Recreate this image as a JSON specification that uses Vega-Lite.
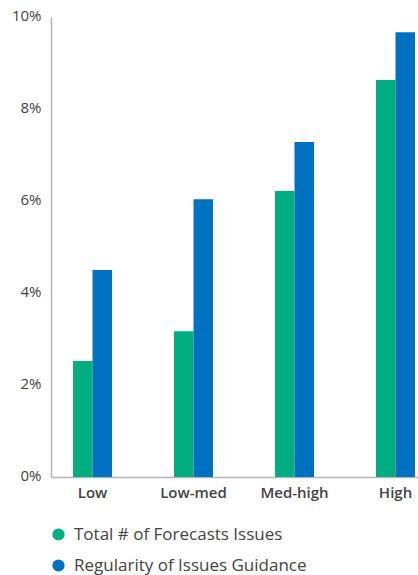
{
  "$schema": "https://vega.github.io/schema/vega-lite/v6.json",
  "autosize": "none",
  "width": 367,
  "height": 460,
  "padding": {"left": 51, "top": 17, "right": 0, "bottom": 98},
  "background": "white",
  "data": {
    "values": [
      {"group": "Low", "series": "Total # of Forecasts Issues", "value": 0.0252},
      {"group": "Low", "series": "Regularity of Issues Guidance", "value": 0.045},
      {"group": "Low-med", "series": "Total # of Forecasts Issues", "value": 0.0317},
      {"group": "Low-med", "series": "Regularity of Issues Guidance", "value": 0.0604},
      {"group": "Med-high", "series": "Total # of Forecasts Issues", "value": 0.0622},
      {"group": "Med-high", "series": "Regularity of Issues Guidance", "value": 0.0728},
      {"group": "High", "series": "Total # of Forecasts Issues", "value": 0.0863},
      {"group": "High", "series": "Regularity of Issues Guidance", "value": 0.0967}
    ]
  },
  "mark": {"type": "bar"},
  "encoding": {
    "x": {
      "field": "group",
      "type": "nominal",
      "sort": ["Low", "Low-med", "Med-high", "High"],
      "scale": {"paddingInner": 0.614, "paddingOuter": 0.124, "align": 0.88},
      "axis": {
        "title": null,
        "labelAngle": 0,
        "ticks": false,
        "labelFont": "Open Sans",
        "labelFontSize": 15,
        "labelFontWeight": 600,
        "labelColor": "#444444",
        "labelPadding": 8,
        "domainColor": "#b5b5b5",
        "domainWidth": 1.5,
        "grid": false
      }
    },
    "xOffset": {
      "field": "series",
      "type": "nominal",
      "sort": ["Total # of Forecasts Issues", "Regularity of Issues Guidance"],
      "scale": {"paddingInner": 0, "paddingOuter": 0}
    },
    "y": {
      "field": "value",
      "type": "quantitative",
      "scale": {"domain": [0, 0.1], "nice": false},
      "axis": {
        "title": null,
        "values": [0, 0.02, 0.04, 0.06, 0.08, 0.1],
        "format": ".0%",
        "ticks": false,
        "grid": false,
        "labelFont": "Open Sans",
        "labelFontSize": 15,
        "labelColor": "#444444",
        "labelPadding": 10,
        "labelOffset": -2,
        "domainColor": "#b5b5b5",
        "domainWidth": 1.5
      }
    },
    "color": {
      "field": "series",
      "type": "nominal",
      "sort": ["Total # of Forecasts Issues", "Regularity of Issues Guidance"],
      "scale": {
        "domain": ["Total # of Forecasts Issues", "Regularity of Issues Guidance"],
        "range": ["#00ad80", "#0070c0"]
      },
      "legend": {
        "orient": "none",
        "legendX": -1,
        "legendY": 509,
        "direction": "vertical",
        "title": null,
        "symbolType": "circle",
        "symbolSize": 150,
        "symbolStrokeWidth": 0,
        "labelFont": "Open Sans",
        "labelFontSize": 17,
        "labelColor": "#444444",
        "labelOffset": 7,
        "rowPadding": 13,
        "labelLimit": 400
      }
    }
  },
  "config": {"view": {"stroke": null}}
}
